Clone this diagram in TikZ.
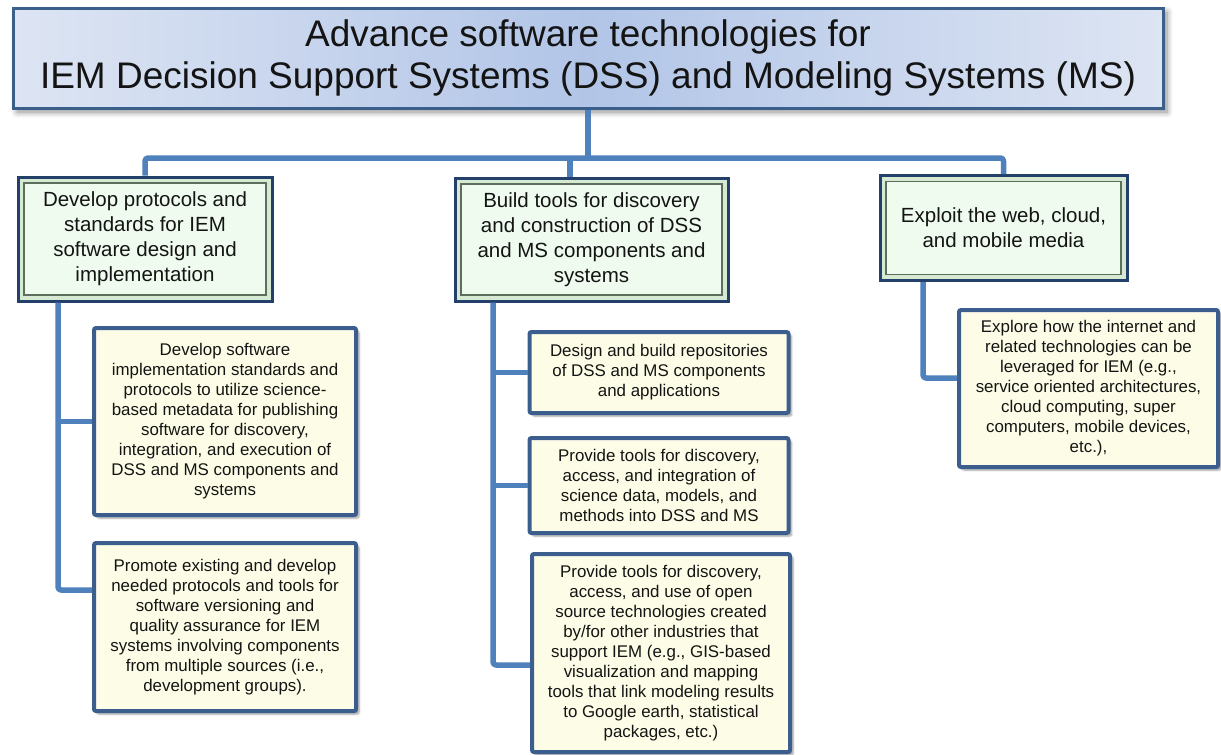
\documentclass[tikz,border=0pt]{standalone}
\usepackage{fontspec}
\setmainfont{Liberation Sans}
\usetikzlibrary{shadows,shadows.blur,calc}
\definecolor{conncol}{HTML}{4F81BD}
\definecolor{titleborder}{HTML}{3A5F8B}
\definecolor{titlelight}{HTML}{DDE5F3}
\definecolor{titledark}{HTML}{B2C5E7}
\definecolor{childfill}{HTML}{FDFDE7}
\definecolor{childborder}{HTML}{3B5E8E}
\definecolor{lvlborder}{HTML}{22406A}
\definecolor{lvlband}{HTML}{D6EAD3}
\definecolor{lvlfill}{HTML}{EFFBEF}
\definecolor{lvlinner}{HTML}{5E6E5C}
\definecolor{txt}{HTML}{141414}
\tikzset{
  conn/.style={draw=conncol, line width=5.5pt, rounded corners=3pt, line join=round},
  titlebox/.style={draw=titleborder, line width=3pt, left color=titlelight, right color=titlelight, middle color=titledark,
     blur shadow={shadow xshift=4pt, shadow yshift=-4pt, shadow blur steps=8, shadow blur radius=6pt, shadow opacity=45},
     align=center, text=txt, font=\fontsize{37}{42}\selectfont, inner sep=0pt},
  lvlbox/.style={draw=lvlborder, line width=3pt, fill=lvlband, align=center, text=txt,
     font=\fontsize{20.5}{25}\selectfont, inner sep=0pt,
     path picture={\draw[draw=lvlinner, line width=1.3pt, fill=lvlfill]
        ([shift={(6pt,-6pt)}]path picture bounding box.north west) rectangle
        ([shift={(-6pt,6pt)}]path picture bounding box.south east);}},
  childbox/.style={draw=childborder, line width=4pt, fill=childfill, rounded corners=2pt, align=center, text=txt,
     font=\fontsize{16.9}{20}\selectfont, inner sep=0pt,
     blur shadow={shadow xshift=3pt, shadow yshift=-3pt, shadow blur steps=5, shadow opacity=40}},
}
\begin{document}
\begin{tikzpicture}[x=1pt, y=-1pt]
\useasboundingbox (0,0) rectangle (1221,755);

% title
\node[titlebox, minimum width=1150pt, minimum height=100pt] (title) at (588,58)
  {Advance software technologies for\\IEM Decision Support Systems (DSS) and Modeling Systems (MS)};

% level 1
\node[lvlbox, minimum width=254pt, minimum height=124pt] (L1) at (145,239)
  {Develop protocols and\\standards for IEM\\software design and\\implementation};
\node[lvlbox, minimum width=273pt, minimum height=123pt] (M1) at (591.5,239.5)
  {Build tools for discovery\\and construction of DSS\\and MS components and\\systems};
\node[lvlbox, minimum width=247pt, minimum height=105pt] (R1) at (1003.5,228)
  {Exploit the web, cloud,\\and mobile media};

% children
\node[childbox, minimum width=262pt, minimum height=187pt] (Lc1) at (225,421.5)
  {Develop software\\implementation standards and\\protocols to utilize science-\\based metadata for publishing\\software for discovery,\\integration, and execution of\\DSS and MS components and\\systems};
\node[childbox, minimum width=262pt, minimum height=168pt] (Lc2) at (225,627)
  {Promote existing and develop\\needed protocols and tools for\\software versioning and\\quality assurance for IEM\\systems involving components\\from multiple sources (i.e.,\\development groups).};
\node[childbox, minimum width=259pt, minimum height=81pt] (Mc1) at (659,372.5)
  {Design and build repositories\\of DSS and MS components\\and applications};
\node[childbox, minimum width=259pt, minimum height=95pt] (Mc2) at (659,485.5)
  {Provide tools for discovery,\\access, and integration of\\science data, models, and\\methods into DSS and MS};
\node[childbox, minimum width=258pt, minimum height=198pt] (Mc3) at (661,653)
  {Provide tools for discovery,\\access, and use of open\\source technologies created\\by/for other industries that\\support IEM (e.g., GIS-based\\visualization and mapping\\tools that link modeling results\\to Google earth, statistical\\packages, etc.)};
\node[childbox, minimum width=259pt, minimum height=157pt] (Rc1) at (1088.5,388.5)
  {Explore how the internet  and\\related technologies can be\\leveraged for IEM (e.g.,\\service oriented architectures,\\cloud computing, super\\computers, mobile devices,\\etc.),};

% top connectors
\coordinate (bus) at (588,158);
\draw[conn] (title.south) -- (bus);
\draw[conn] (L1.north) |- (bus) -| (R1.north);
\draw[conn] ([xshift=-21.5pt]M1.north) -- ([xshift=-21.5pt]M1.north |- bus);

% left column
\coordinate (Lv) at ([xshift=-87pt]L1.south);
\draw[conn] (Lv) |- ([yshift=37pt]Lc2.west);
\draw[conn] (Lc1.west) -- (Lc1.west -| Lv);

% middle column
\coordinate (Mv) at ([xshift=-98.5pt]M1.south);
\draw[conn] (Mv) |- ([yshift=-12pt]Mc3.west);
\draw[conn] (Mc1.west) -- (Mc1.west -| Mv);
\draw[conn] (Mc2.west) -- (Mc2.west -| Mv);

% right column
\coordinate (Rv) at ([xshift=-80.5pt]R1.south);
\draw[conn] (Rv) |- ([yshift=10.5pt]Rc1.west);
\end{tikzpicture}
\end{document}
